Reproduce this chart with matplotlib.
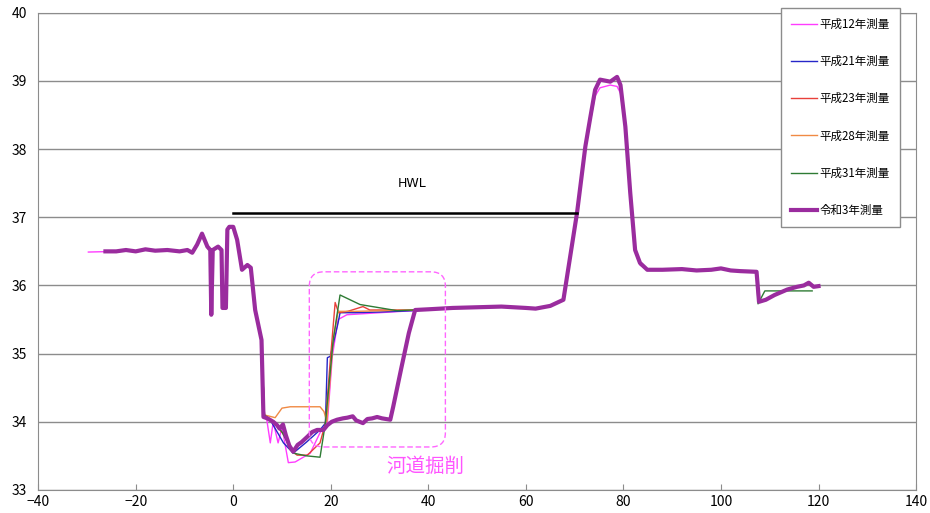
import numpy as np
import matplotlib
matplotlib.use("Agg")
import matplotlib.pyplot as plt
from matplotlib.patches import FancyBboxPatch

plt.rcParams['font.family'] = ['Noto Sans CJK JP', 'DejaVu Sans']

# shared bank sections (distance m, elevation m)
bank_left_x = [-24.0, -22.0, -20.0, -18.0, -16.0, -13.5, -11.0, -9.4, -8.4, -7.4, -6.4, -5.3,
               -4.7, -4.5, -4.2, -3.1, -2.4, -2.2, -1.5, -1.2, -0.8, 0.0, 0.8, 1.8, 2.9, 3.6,
               4.5, 5.8]
bank_left_y = [36.5, 36.52, 36.5, 36.53, 36.51, 36.52, 36.5, 36.52, 36.48, 36.6, 36.76, 36.57,
               36.52, 35.57, 36.52, 36.57, 36.52, 35.67, 35.67, 36.82, 36.86, 36.86, 36.67,
               36.23, 36.3, 36.26, 35.64, 35.2]

mid_x = [37.3, 40.0, 45.0, 50.0, 55.0, 60.0, 62.0, 65.0, 67.7]
mid_y = [35.64, 35.65, 35.67, 35.68, 35.69, 35.67, 35.66, 35.7, 35.79]

mound_x = [70.5, 72.2, 73.2, 74.2, 75.2, 77.3, 78.7, 79.4, 80.4, 81.4, 82.4, 83.4, 84.9]
mound_y = [37.07, 38.04, 38.46, 38.87, 39.02, 38.99, 39.06, 38.94, 38.33, 37.36, 36.52,
           36.33, 36.23]
mound_h12_y = [37.07, 38.0, 38.4, 38.78, 38.9, 38.94, 38.92, 38.82, 38.28, 37.33, 36.5,
               36.3, 36.23]

bank_right_x = [88.0, 92.0, 95.0, 98.0, 100.0, 102.0, 104.0, 107.3, 107.8, 109.2, 111.0,
                113.6, 115.6, 117.0, 118.0, 119.0, 120.0]
bank_right_y = [36.23, 36.24, 36.22, 36.23, 36.25, 36.22, 36.21, 36.2, 35.76, 35.79, 35.86,
                35.94, 35.98, 36.0, 36.04, 35.98, 35.99]
bank_right_h31_x = [88.0, 95.0, 100.0, 104.0, 107.3, 107.6, 109.0, 118.7]
bank_right_h31_y = [36.23, 36.22, 36.24, 36.21, 36.2, 35.73, 35.92, 35.92]

# channel sections per survey
h12_x = [-29.7, 6.4, 6.9, 7.6, 8.2, 9.2, 10.0, 11.3, 12.7, 15.8, 17.8, 19.3, 20.3, 21.5, 23.3, 30.0, 36.9]
h12_y = [36.49, 34.1, 34.02, 33.69, 34.0, 33.69, 33.92, 33.4, 33.41, 33.54, 33.84, 33.98, 34.95, 35.5, 35.57, 35.6, 35.63]

h21_x = [6.4, 7.8, 10.3, 12.3, 15.0, 17.8, 18.9, 19.3, 19.9, 21.5, 21.9, 25.0, 30.0, 36.9]
h21_y = [34.1, 34.0, 33.69, 33.54, 33.7, 33.88, 33.98, 34.94, 34.96, 35.45, 35.6, 35.6, 35.61, 35.63]

h23_x = [6.4, 8.2, 10.5, 11.7, 13.1, 15.2, 17.8, 18.9, 19.9, 20.9, 21.6, 23.5, 26.6, 28.0, 36.9]
h23_y = [34.1, 34.0, 33.8, 33.59, 33.51, 33.51, 33.69, 33.98, 34.9, 35.75, 35.6, 35.62, 35.69, 35.64, 35.64]

h28_x = [6.4, 8.6, 10.0, 11.7, 17.8, 18.6, 19.2, 20.5, 21.5, 25.0, 36.9]
h28_y = [34.1, 34.06, 34.2, 34.22, 34.22, 34.15, 34.0, 35.2, 35.62, 35.62, 35.64]

h31_x = [6.4, 8.2, 10.0, 12.3, 15.0, 17.8, 18.9, 20.5, 21.9, 26.0, 33.6, 36.9]
h31_y = [34.1, 34.0, 33.85, 33.54, 33.5, 33.48, 33.98, 35.2, 35.86, 35.72, 35.63, 35.64]

r3_x = [-26.2, 6.2, 7.0, 8.2, 9.0, 9.5, 10.2, 10.8, 11.5, 12.3, 13.2, 14.0, 15.2, 16.2, 17.2,
        18.5, 19.3, 20.2, 21.3, 22.5, 23.4, 24.5, 25.2, 26.6, 27.5, 28.5, 29.5, 30.5, 32.2,
        32.8, 34.5, 36.0]
r3_y = [36.5, 34.07, 34.05, 34.0, 33.95, 33.9, 33.96, 33.8, 33.65, 33.56, 33.66, 33.7, 33.78,
        33.85, 33.88, 33.88, 33.95, 34.0, 34.03, 34.05, 34.06, 34.08, 34.02, 33.98, 34.04,
        34.05, 34.07, 34.05, 34.03, 34.22, 34.8, 35.3]

hwl_x = [0.0, 70.5]
hwl_y = [37.07, 37.07]


def join(*parts):
    xs, ys = [], []
    for px, py in parts:
        xs += list(px)
        ys += list(py)
    order = np.argsort(xs, kind="stable")
    return np.array(xs)[order], np.array(ys)[order]


surveys = [
    ("平成12年測量", "#FF3CFF", 1.0, [(h12_x, h12_y), (bank_left_x, bank_left_y), (mid_x, mid_y),
                                   (mound_x, mound_h12_y), (bank_right_x, bank_right_y)]),
    ("平成21年測量", "#2626C8", 1.0, [(h21_x, h21_y), (bank_left_x, bank_left_y), (mid_x, mid_y),
                                   (mound_x, mound_y), (bank_right_x, bank_right_y)]),
    ("平成23年測量", "#E8403A", 1.0, [(h23_x, h23_y), (bank_left_x, bank_left_y), (mid_x, mid_y),
                                   (mound_x, mound_y), (bank_right_x, bank_right_y)]),
    ("平成28年測量", "#F08A44", 1.0, [(h28_x, h28_y), (bank_left_x, bank_left_y), (mid_x, mid_y),
                                   (mound_x, mound_y), (bank_right_x, bank_right_y)]),
    ("平成31年測量", "#2E7B34", 1.0, [(h31_x, h31_y), (bank_left_x, bank_left_y), (mid_x, mid_y),
                                   (mound_x, mound_y), (bank_right_h31_x, bank_right_h31_y)]),
    ("令和3年測量", "#9A2C9E", 3.0, [(r3_x, r3_y), (bank_left_x, bank_left_y), (mid_x, mid_y),
                                  (mound_x, mound_y), (bank_right_x, bank_right_y)]),
]

fig = plt.figure(figsize=(9.3, 5.13), dpi=100)
ax = fig.add_axes([0.041, 0.045, 0.944, 0.930])

for label, color, lw, parts in surveys:
    x, y = join(*parts)
    ax.plot(x, y, color=color, lw=lw, label=label, zorder=3 if lw > 2 else 2,
            solid_joinstyle="round")

ax.plot(hwl_x, hwl_y, color="black", lw=1.8, zorder=4)
ax.text(36.7, 37.5, "HWL", ha="center", va="center", fontsize=9, family="DejaVu Sans")

box = FancyBboxPatch((15.6, 33.63), 27.9, 2.57,
                     boxstyle="round,pad=0,rounding_size=3", mutation_aspect=0.07,
                     fill=False, ec="#FF66FF", ls=(0, (4, 2)), lw=1.0, zorder=5)
ax.add_patch(box)
ax.text(39.3, 33.34, "河道掘削", color="#FF55FF", fontsize=14, ha="center", va="center")

ax.set_xlim(-40, 140)
ax.set_ylim(33, 40)
ax.set_xticks(range(-40, 141, 20))
ax.set_yticks(range(33, 41))
ax.yaxis.grid(True, color="#8c8c8c", lw=1)
ax.set_axisbelow(True)
for s in ax.spines.values():
    s.set_color("#8c8c8c")
ax.tick_params(axis="x", direction="in", length=4, color="#8c8c8c", labelsize=10)
ax.tick_params(axis="y", length=0, labelsize=10, pad=8)

leg = ax.legend(loc="upper right", bbox_to_anchor=(0.988, 1.022), fontsize=8.3,
                labelspacing=2.1, handlelength=2.3, handletextpad=0.2,
                borderpad=0.85, fancybox=False, framealpha=1, edgecolor="#8c8c8c")
leg.get_frame().set_linewidth(1.0)
leg.set_zorder(10)

fig.savefig("out.png", dpi=100)
